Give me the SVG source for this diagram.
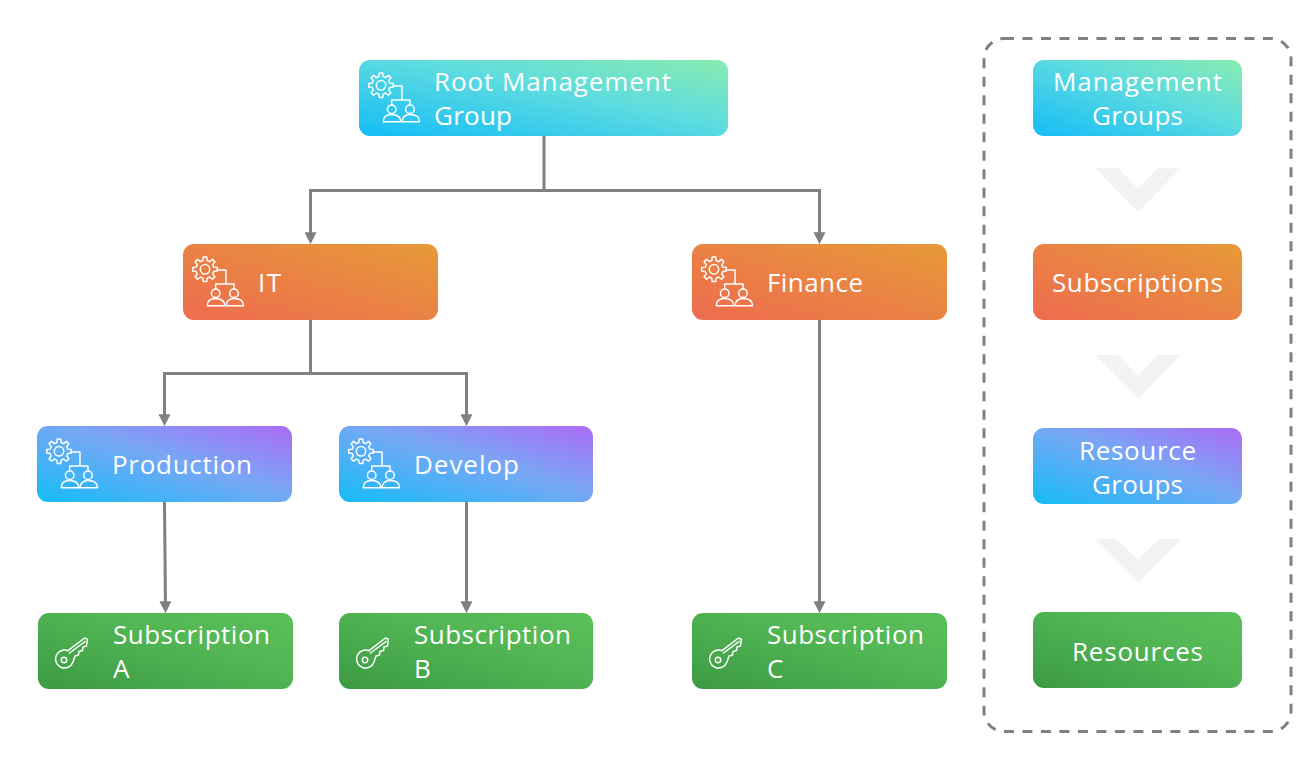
<svg xmlns="http://www.w3.org/2000/svg" width="1316" height="783" viewBox="0 0 1316 783">
<style>
text{font-family:"Open Sans","Noto Sans","Liberation Sans",sans-serif;font-size:26px;fill:#fff}
.c{fill:none;stroke:#808080;stroke-width:3}
.i{fill:none;stroke:#fff;stroke-width:1.5;stroke-linejoin:round;stroke-linecap:round}
.chev{fill:#f3f3f3}
</style>
<defs>
<linearGradient id="gb" x1="0" y1="1" x2="1" y2="0"><stop offset="0" stop-color="#14bcf7"/><stop offset="0.55" stop-color="#5cdbe0"/><stop offset="1" stop-color="#88ecb0"/></linearGradient>
<linearGradient id="go" x1="0" y1="1" x2="1" y2="0"><stop offset="0" stop-color="#ee6b4f"/><stop offset="1" stop-color="#e69a38"/></linearGradient>
<linearGradient id="gp" x1="0" y1="1" x2="1" y2="0"><stop offset="0" stop-color="#14bcf7"/><stop offset="0.55" stop-color="#78a7f5"/><stop offset="1" stop-color="#ab6bf6"/></linearGradient>
<linearGradient id="gg" x1="0" y1="1" x2="1" y2="0"><stop offset="0" stop-color="#3c9a43"/><stop offset="0.6" stop-color="#52b654"/><stop offset="1" stop-color="#5ac05a"/></linearGradient>
<marker id="a" markerUnits="userSpaceOnUse" markerWidth="12" markerHeight="12" viewBox="0 0 11 11" refX="8" refY="5.5" orient="auto"><path d="M0 0L11 5.500L0 11z" fill="#808080"/></marker>
<g id="org" class="i">
<polygon points="7.76,-1.94 10.89,-1.53 10.89,1.53 7.76,1.94 6.86,4.12 8.78,6.62 6.62,8.78 4.12,6.86 1.94,7.76 1.53,10.89 -1.53,10.89 -1.94,7.76 -4.12,6.86 -6.62,8.78 -8.78,6.62 -6.86,4.12 -7.76,1.94 -10.89,1.53 -10.89,-1.53 -7.76,-1.94 -6.86,-4.12 -8.78,-6.62 -6.62,-8.78 -4.12,-6.86 -1.94,-7.76 -1.53,-10.89 1.53,-10.89 1.94,-7.76 4.12,-6.86 6.62,-8.78 8.78,-6.62 6.86,-4.12" transform="translate(22,25.300) scale(1.130)" stroke-width="1.300"/>
<circle cx="22" cy="25.300" r="4.700"/>
<path d="M34 26H43V40M32.700 45V40H51V45"/>
<circle cx="32.700" cy="49.300" r="4.300"/><circle cx="51" cy="49.300" r="4.300"/>
<path d="M24.300 61.700C24.300 56.500 27.500 54.500 32.700 54.500C38 54.500 41.500 56.500 42 61.700ZM43 61.700C43.500 56.500 46 54.500 51 54.500C56.500 54.500 60.500 56.500 60.500 61.700Z"/>
</g>
<g id="key" class="i" stroke-width="1.300">
<path d="M30 37.700L46.500 25L49.300 26.300L48.500 33L45 34L44.500 37.500L41 38.500L40.500 42L37 43L35 49A9 9 0 1 1 30 37.700ZM31.500 40L47 28.500"/>
<circle cx="26" cy="47" r="2.700"/>
</g>
</defs>
<rect width="1316" height="783" fill="#fff"/>
<rect id="legend-frame" x="984" y="38.500" width="307" height="693" rx="20" fill="none" stroke="#808080" stroke-width="3" stroke-dasharray="10 8.500"/>
<g id="connectors">
<path class="c" d="M544 136V190"/>
<path class="c" d="M544 190.500H310.500V241" marker-end="url(#a)"/>
<path class="c" d="M544 190.500H819.500V241" marker-end="url(#a)"/>
<path class="c" d="M310.500 320V373.500"/>
<path class="c" d="M310.500 373.500H164.500V423" marker-end="url(#a)"/>
<path class="c" d="M310.500 373.500H466.500V423" marker-end="url(#a)"/>
<path class="c" d="M164.500 502L165.500 610" marker-end="url(#a)"/>
<path class="c" d="M466.500 502V610" marker-end="url(#a)"/>
<path class="c" d="M819.500 320V610" marker-end="url(#a)"/>
</g>
<g id="root"><rect x="359" y="60" width="369" height="76" rx="11" fill="url(#gb)"/><use href="#org" x="359" y="60"/><text x="434" y="91" textLength="237">Root Management</text><text x="434" y="125" textLength="78">Group</text></g>
<g id="it"><rect x="183" y="244" width="255" height="76" rx="11" fill="url(#go)"/><use href="#org" x="183" y="244"/><text x="258" y="292" textLength="23">IT</text></g>
<g id="finance"><rect x="692" y="244" width="255" height="76" rx="11" fill="url(#go)"/><use href="#org" x="692" y="244"/><text x="767" y="292" textLength="96">Finance</text></g>
<g id="production"><rect x="37" y="426" width="255" height="76" rx="11" fill="url(#gp)"/><use href="#org" x="37" y="426"/><text x="112" y="474" textLength="140">Production</text></g>
<g id="develop"><rect x="339" y="426" width="254" height="76" rx="11" fill="url(#gp)"/><use href="#org" x="339" y="426"/><text x="414" y="474" textLength="105">Develop</text></g>
<g id="sub-a"><rect x="38" y="613" width="255" height="76" rx="11" fill="url(#gg)"/><use href="#key" x="38" y="613"/><text x="113" y="644" textLength="157">Subscription</text><text x="113" y="678" textLength="19">A</text></g>
<g id="sub-b"><rect x="339" y="613" width="254" height="76" rx="11" fill="url(#gg)"/><use href="#key" x="339" y="613"/><text x="414" y="644" textLength="157">Subscription</text><text x="414" y="678" textLength="16">B</text></g>
<g id="sub-c"><rect x="692" y="613" width="255" height="76" rx="11" fill="url(#gg)"/><use href="#key" x="692" y="613"/><text x="767" y="644" textLength="157">Subscription</text><text x="767" y="678" textLength="17">C</text></g>
<g id="legend-mg"><rect x="1033" y="60" width="209" height="76" rx="11" fill="url(#gb)"/><text x="1053" y="91" textLength="169">Management</text><text x="1092" y="125" textLength="91">Groups</text></g>
<g id="legend-sub"><rect x="1033" y="244" width="209" height="76" rx="11" fill="url(#go)"/><text x="1052" y="292" textLength="171">Subscriptions</text></g>
<g id="legend-rg"><rect x="1033" y="428" width="209" height="76" rx="11" fill="url(#gp)"/><text x="1079" y="460" textLength="117">Resource</text><text x="1092" y="494" textLength="91">Groups</text></g>
<g id="legend-res"><rect x="1033" y="612" width="209" height="76" rx="11" fill="url(#gg)"/><text x="1072" y="661" textLength="131">Resources</text></g>
<polygon class="chev" points="1095,168 1118,168 1138,189 1158,168 1181,168 1138,212"/>
<polygon class="chev" points="1095,355 1118,355 1138,376 1158,355 1181,355 1138,399"/>
<polygon class="chev" points="1094,539 1117,539 1138,560 1159,539 1182,539 1138,583"/>
</svg>
